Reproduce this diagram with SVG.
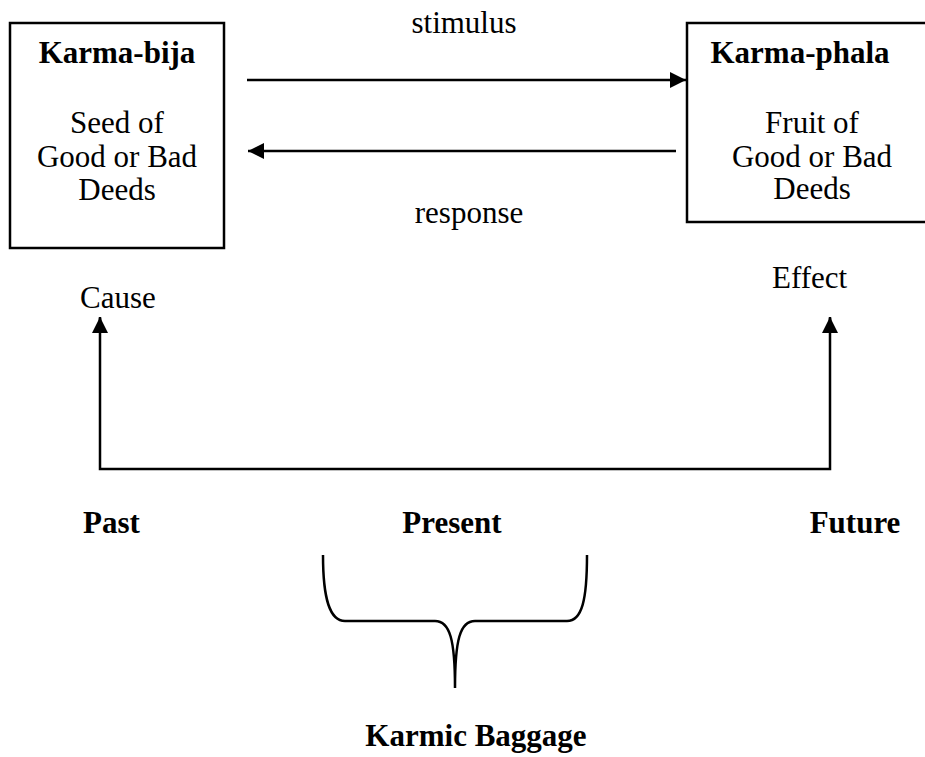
<svg xmlns="http://www.w3.org/2000/svg" width="925" height="757" viewBox="0 0 925 757" font-family="'Liberation Serif', 'DejaVu Serif', serif">
  <style>
    .box { fill: #fff; stroke: #000; stroke-width: 2.5; }
    .ln { fill: none; stroke: #000; stroke-width: 2.5; }
    text { font-family: 'Liberation Serif', 'Times New Roman', 'DejaVu Serif', serif; font-size: 31px; fill: #000; }
    .b { font-weight: bold; }
    .c { text-anchor: middle; }
  </style>
  <defs>
    <marker id="arrow" markerUnits="userSpaceOnUse" markerWidth="18" markerHeight="16" refX="16" refY="8" orient="auto">
      <path d="M0,0 L16,8 L0,16 Z" fill="#000"/>
    </marker>
  </defs>

  <rect width="925" height="757" fill="#fff"/>

  <g id="karma-bija">
    <rect class="box" x="10" y="23" width="214" height="225"/>
    <text class="b c" x="117" y="63">Karma-bija</text>
    <text class="c" x="117" y="133">Seed of</text>
    <text class="c" x="117" y="167">Good or Bad</text>
    <text class="c" x="117" y="200">Deeds</text>
  </g>

  <g id="karma-phala">
    <rect class="box" x="687" y="23" width="250" height="199"/>
    <text class="b c" x="800" y="63">Karma-phala</text>
    <text class="c" x="812" y="133">Fruit of</text>
    <text class="c" x="812" y="167">Good or Bad</text>
    <text class="c" x="812" y="199">Deeds</text>
  </g>

  <g id="connectors">
    <line class="ln" x1="247" y1="80" x2="686" y2="80" marker-end="url(#arrow)"/>
    <line class="ln" x1="676" y1="151" x2="248" y2="151" marker-end="url(#arrow)"/>
    <polyline class="ln" points="100,318 100,469 830,469 830,318"/>
    <line class="ln" x1="100" y1="330" x2="100" y2="317" marker-end="url(#arrow)"/>
    <line class="ln" x1="830" y1="330" x2="830" y2="317" marker-end="url(#arrow)"/>
  </g>

  <g id="labels">
    <text class="c" x="464" y="33">stimulus</text>
    <text class="c" x="469" y="223">response</text>
    <text x="80" y="308">Cause</text>
    <text x="772" y="288">Effect</text>
    <text class="b" x="83" y="533">Past</text>
    <text class="b c" x="452" y="533">Present</text>
    <text class="b c" x="855" y="533">Future</text>
  </g>

  <g id="karmic-baggage">
    <path class="ln" d="M323,555 C323,600 330,621 345,621 L435,621 C450,621 455,640 455,688 C455,640 460,621 475,621 L567,621 C582,621 587,600 587,555"/>
    <text class="b c" x="476" y="746">Karmic Baggage</text>
  </g>
</svg>
